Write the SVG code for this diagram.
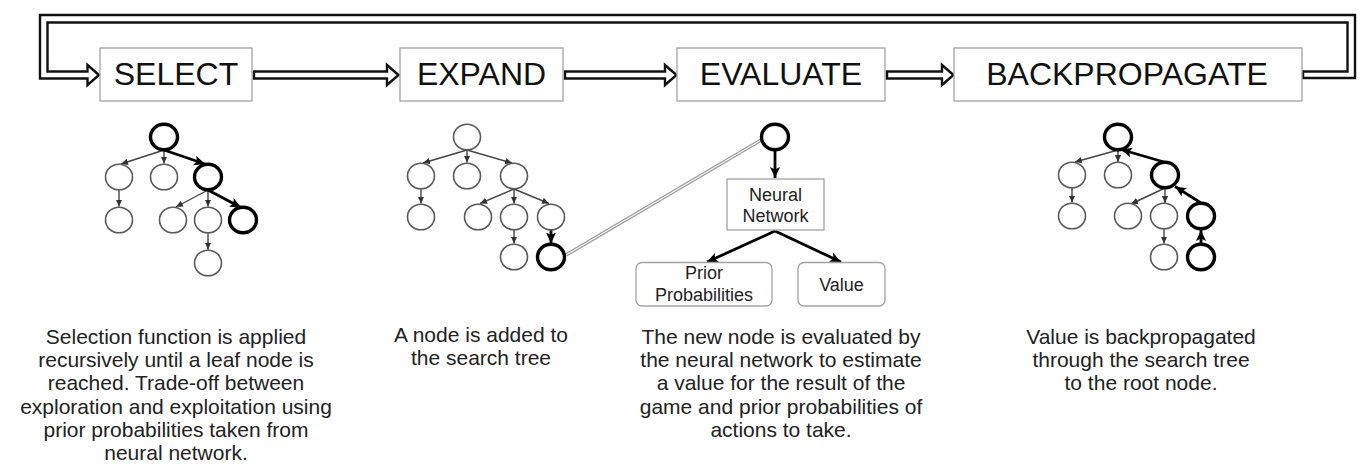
<svg xmlns="http://www.w3.org/2000/svg" width="1370" height="468" viewBox="0 0 1370 468">
<style>
.box{fill:#fff;stroke:#a3a3a3;stroke-width:1.3}
.rbox{fill:#fff;stroke:#a3a3a3;stroke-width:1.3}
.title{font-family:"Liberation Sans",Arial,sans-serif;font-size:32px;fill:#111;text-anchor:middle}
.lbl{font-family:"Liberation Sans",Arial,sans-serif;font-size:18px;fill:#222;text-anchor:middle}
.desc{font-family:"Liberation Sans",Arial,sans-serif;font-size:21px;fill:#222;text-anchor:middle}
.hollow{fill:#fff;stroke:#111;stroke-width:2.4;stroke-linejoin:miter}
.n{fill:#fff;stroke:#5a5a5a;stroke-width:1.6}
.nb{fill:#fff;stroke:#000;stroke-width:3.4}
.e{fill:none;stroke:#444;stroke-width:1.4;marker-end:url(#ah)}
.eb{fill:none;stroke:#000;stroke-width:2.8;marker-end:url(#ahb)}
</style>
<defs>
<marker id="ah" markerUnits="userSpaceOnUse" markerWidth="8" markerHeight="8" viewBox="0 0 8 8" refX="7" refY="4" orient="auto">
<path d="M0,0.8 L7,4 L0,7.2 Z" fill="#333"/>
</marker>
<marker id="ahb" markerUnits="userSpaceOnUse" markerWidth="12" markerHeight="12" viewBox="0 0 12 12" refX="11" refY="6" orient="auto">
<path d="M0,1 L11,6 L0,11 L2.5,6 Z" fill="#000"/>
</marker>
</defs>

<g id="connectors">
<polygon class="hollow" points="1303,78 1355,78 1355,15 40,15 40,78.5 87.5,78.5 87.5,85 99,75 87.5,65 87.5,71.5 47.5,71.5 47.5,22.5 1347.5,22.5 1347.5,71.5 1303,71.5"/>
<polygon class="hollow" points="254,71.5 387,71.5 387,65 398.5,75 387,85 387,78.5 254,78.5"/>
<polygon class="hollow" points="565,71.5 665,71.5 665,65 676.5,75 665,85 665,78.5 565,78.5"/>
<polygon class="hollow" points="887,71.5 942,71.5 942,65 953.5,75 942,85 942,78.5 887,78.5"/>
<line x1="566" y1="255" x2="762" y2="139.5" stroke="#9a9a9a" stroke-width="3.6"/>
<line x1="566" y1="255" x2="762" y2="139.5" stroke="#f2f2f2" stroke-width="1.4"/>

<path class="e" d="M164,150 L121,164"/>
<path class="e" d="M164,150 L164,163.5"/>
<path class="eb" d="M164,150 L205,164"/>
<path class="e" d="M119,190 L119,206.5"/>
<path class="e" d="M208,190 L176,207"/>
<path class="e" d="M208,190 L208,206.5"/>
<path class="eb" d="M208,190 L241,207.5"/>
<path class="e" d="M208,233 L208,249.5"/>

<path class="e" d="M467,150 L423,163"/>
<path class="e" d="M467,150 L467,162.5"/>
<path class="e" d="M467,150 L512,163"/>
<path class="e" d="M421,189 L421,203.5"/>
<path class="e" d="M514,189 L480,203.5"/>
<path class="e" d="M514,189 L514,203.5"/>
<path class="e" d="M514,189 L549,203.5"/>
<path class="e" d="M514,230 L514,243.5"/>
<path class="eb" d="M551,230 L551,243.5"/>

<path class="eb" d="M775,151 L775,178"/>
<path class="eb" d="M775,231 L707,262"/>
<path class="eb" d="M775,231 L841,262"/>

<path class="e" d="M1118,150 L1075,162"/>
<path class="e" d="M1118,150 L1118,162"/>
<path class="eb" d="M1164,162 L1121,149.5"/>
<path class="e" d="M1072,188 L1072,202.5"/>
<path class="e" d="M1165,188 L1131,204"/>
<path class="e" d="M1165,188 L1165,203"/>
<path class="eb" d="M1201,203 L1175,186.5"/>
<path class="e" d="M1164,229 L1164,243.5"/>
<path class="eb" d="M1201,243.5 L1201,230"/>
</g>

<g id="select"><rect class="box" x="100" y="48" width="152" height="53"/><text class="title" x="176" y="85">SELECT</text></g>
<g id="expand"><rect class="box" x="400" y="48" width="163" height="53"/><text class="title" x="481.5" y="85">EXPAND</text></g>
<g id="evaluate"><rect class="box" x="677" y="48" width="208" height="53"/><text class="title" x="781" y="85">EVALUATE</text></g>
<g id="backpropagate"><rect class="box" x="954" y="48" width="348" height="53"/><text class="title" x="1127" y="85">BACKPROPAGATE</text></g>

<g id="select-tree">
<ellipse class="nb" cx="164" cy="137" rx="13.5" ry="12.8"/>
<ellipse class="n" cx="119" cy="177" rx="13.5" ry="12.8"/>
<ellipse class="n" cx="164" cy="177" rx="13.5" ry="12.8"/>
<ellipse class="nb" cx="208" cy="177" rx="13.5" ry="12.8"/>
<ellipse class="n" cx="119" cy="220" rx="13.5" ry="12.8"/>
<ellipse class="n" cx="173" cy="220" rx="13.5" ry="12.8"/>
<ellipse class="n" cx="208" cy="220" rx="13.5" ry="12.8"/>
<ellipse class="nb" cx="243" cy="220" rx="13.5" ry="12.8"/>
<ellipse class="n" cx="208" cy="263" rx="13.5" ry="12.8"/>
</g>

<g id="expand-tree">
<ellipse class="n" cx="467" cy="137" rx="13.5" ry="12.8"/>
<ellipse class="n" cx="421" cy="176" rx="13.5" ry="12.8"/>
<ellipse class="n" cx="467" cy="176" rx="13.5" ry="12.8"/>
<ellipse class="n" cx="514" cy="176" rx="13.5" ry="12.8"/>
<ellipse class="n" cx="421" cy="217" rx="13.5" ry="12.8"/>
<ellipse class="n" cx="478" cy="217" rx="13.5" ry="12.8"/>
<ellipse class="n" cx="514" cy="217" rx="13.5" ry="12.8"/>
<ellipse class="n" cx="551" cy="217" rx="13.5" ry="12.8"/>
<ellipse class="n" cx="514" cy="257" rx="13.5" ry="12.8"/>
<ellipse class="nb" cx="551" cy="257" rx="13.5" ry="12.8"/>
</g>

<g id="evaluate-node"><ellipse class="nb" cx="775" cy="137" rx="13.5" ry="12.8"/></g>
<g id="neural-network"><rect class="box" x="727" y="179" width="97" height="51"/><text class="lbl" x="775.5" y="201">Neural</text><text class="lbl" x="775.5" y="222">Network</text></g>
<g id="prior-probabilities"><rect class="rbox" x="636" y="262.5" width="136" height="43.5" rx="6"/><text class="lbl" x="704" y="279">Prior</text><text class="lbl" x="704" y="301">Probabilities</text></g>
<g id="value"><rect class="rbox" x="798" y="262.5" width="87" height="43.5" rx="6"/><text class="lbl" x="841.5" y="291">Value</text></g>

<g id="backprop-tree">
<ellipse class="nb" cx="1118" cy="137" rx="13.5" ry="12.8"/>
<ellipse class="n" cx="1072" cy="175" rx="13.5" ry="12.8"/>
<ellipse class="n" cx="1118" cy="175" rx="13.5" ry="12.8"/>
<ellipse class="nb" cx="1165" cy="175" rx="13.5" ry="12.8"/>
<ellipse class="n" cx="1072" cy="216" rx="13.5" ry="12.8"/>
<ellipse class="n" cx="1128" cy="216" rx="13.5" ry="12.8"/>
<ellipse class="n" cx="1164" cy="216" rx="13.5" ry="12.8"/>
<ellipse class="nb" cx="1201" cy="216" rx="13.5" ry="12.8"/>
<ellipse class="n" cx="1164" cy="257" rx="13.5" ry="12.8"/>
<ellipse class="nb" cx="1201" cy="257" rx="13.5" ry="12.8"/>
</g>

<g id="select-desc">
<text class="desc" x="176" y="344">Selection function is applied</text>
<text class="desc" x="176" y="367.2">recursively until a leaf node is</text>
<text class="desc" x="176" y="390.4">reached. Trade-off between</text>
<text class="desc" x="176" y="413.6">exploration and exploitation using</text>
<text class="desc" x="176" y="436.8">prior probabilities taken from</text>
<text class="desc" x="176" y="460">neural network.</text>
</g>
<g id="expand-desc">
<text class="desc" x="481" y="342">A node is added to</text>
<text class="desc" x="481" y="365">the search tree</text>
</g>
<g id="evaluate-desc">
<text class="desc" x="781" y="344">The new node is evaluated by</text>
<text class="desc" x="781" y="367.2">the neural network to estimate</text>
<text class="desc" x="781" y="390.4">a value for the result of the</text>
<text class="desc" x="781" y="413.6">game and prior probabilities of</text>
<text class="desc" x="781" y="436.8">actions to take.</text>
</g>
<g id="backprop-desc">
<text class="desc" x="1141" y="344">Value is backpropagated</text>
<text class="desc" x="1141" y="367.2">through the search tree</text>
<text class="desc" x="1141" y="390.4">to the root node.</text>
</g>
</svg>
